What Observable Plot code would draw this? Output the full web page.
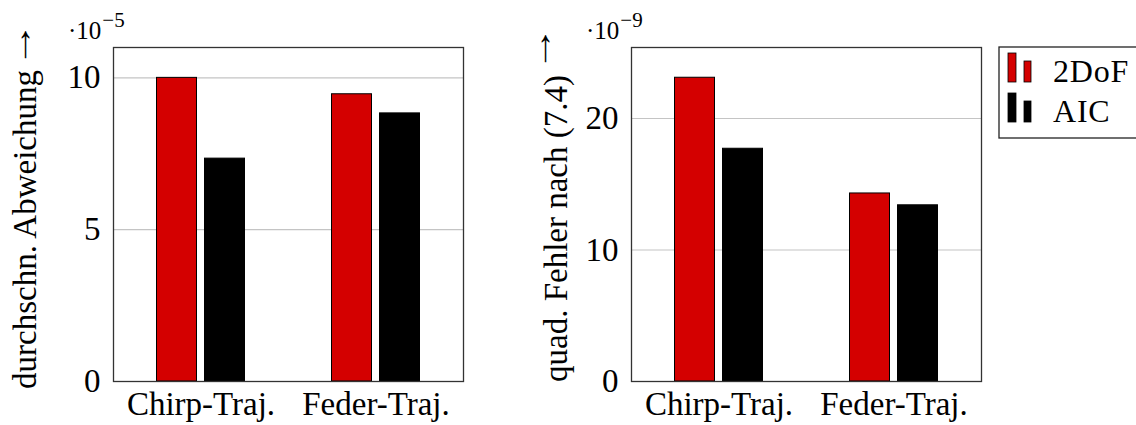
<!DOCTYPE html>
<html>
<head>
<meta charset="utf-8">
<script src="https://cdn.jsdelivr.net/npm/d3@7"></script>
<script src="https://cdn.jsdelivr.net/npm/@observablehq/plot@0.6"></script>
<style>
  html, body { margin: 0; padding: 0; background: #fff; }
  #wrap { position: relative; width: 1136px; height: 425px; overflow: hidden; font-family: "Liberation Serif", "DejaVu Serif", serif; color: #000; }
  .panel { position: absolute; top: 0; }
</style>
</head>
<body>
<div id="wrap"></div>
<script>
// ---- data ----
const categories = ["Chirp-Traj.", "Feder-Traj."];
const seriesNames = ["2DoF", "AIC"];
const meanDev2DoF = [10.0, 9.46];      // ·10^-5
const meanDevAIC  = [7.34, 8.83];      // ·10^-5
const sqErr2DoF   = [23.1, 14.3];      // ·10^-9
const sqErrAIC    = [17.7, 13.4];      // ·10^-9
const leftTicks  = [0, 5, 10];
const rightTicks = [0, 10, 20];
const leftLabel  = "durchschn. Abweichung";
const rightLabel = "quad. Fehler nach (7.4)";
const arrow = "→";
const leftExpo  = ["·10", "−5"];
const rightExpo = ["·10", "−9"];
const colors = {"2DoF": "#d40000", "AIC": "#000000"};

const FONT = '"Liberation Serif", "DejaVu Serif", serif';

function panel({v2, vA, yMax, ticks, label, labelBase, labelEnd, arrowBase, arrowMid, expo}) {
  const rows = categories.flatMap((c, i) => [
    {cat: c, series: seriesNames[0], v: v2[i]},
    {cat: c, series: seriesNames[1], v: vA[i]}
  ]);
  const svg = Plot.plot({
    width: 480, height: 425,
    marginLeft: 113, marginRight: 17, marginTop: 47, marginBottom: 44,
    style: {fontFamily: FONT, fontSize: "33px", background: "transparent", color: "#000", overflow: "visible"},
    x: {domain: categories, padding: 0},
    y: {domain: [0, yMax]},
    marks: [
      Plot.gridY(ticks.filter(t => t > 0), {stroke: "#c4c4c4", strokeOpacity: 1, strokeWidth: 1.2}),
      Plot.barY(rows.filter(d => d.series === seriesNames[0]), {
        x: "cat", y: "v", fill: colors["2DoF"], stroke: "#000", strokeWidth: 1,
        insetLeft: 43.5, insetRight: 91.5
      }),
      Plot.barY(rows.filter(d => d.series === seriesNames[1]), {
        x: "cat", y: "v", fill: colors["AIC"], stroke: "#000", strokeWidth: 1,
        insetLeft: 91.5, insetRight: 43.5
      }),
      Plot.frame({stroke: "#333", strokeWidth: 1.3}),
      Plot.axisY(ticks, {tickSize: 0, tickPadding: 13, fontSize: 33, label: null}),
      Plot.axisX({tickSize: 0, tickPadding: 10, fontSize: 33, label: null, style: {letterSpacing: "0.9px"}})
    ]
  });
  const s = d3.select(svg);
  // rotated y-axis title
  s.append("text")
    .attr("transform", `translate(${labelBase},${labelEnd}) rotate(-90)`)
    .attr("text-anchor", "end")
    .attr("font-family", FONT).attr("font-size", 33).attr("fill", "#000")
    .text(label);
  // arrow after the title
  s.append("text")
    .attr("transform", `translate(${arrowBase},${arrowMid}) rotate(-90) scale(1.4,1)`)
    .attr("text-anchor", "middle")
    .attr("font-family", FONT).attr("font-size", 33).attr("fill", "#000")
    .text(arrow);
  // multiplier label (·10^k) above the y axis
  const t = s.append("text")
    .attr("x", 68).attr("y", 39).attr("text-anchor", "start")
    .attr("font-family", FONT).attr("font-size", 25).attr("fill", "#000");
  t.append("tspan").text(expo[0]);
  t.append("tspan").attr("font-size", 21).attr("dx", 1).attr("dy", -12).text(expo[1]);
  return svg;
}

const wrap = document.getElementById("wrap");

function addPanel(left, opts) {
  const div = document.createElement("div");
  div.className = "panel";
  div.style.left = left + "px";
  div.appendChild(panel(opts));
  wrap.appendChild(div);
}

addPanel(0, {v2: meanDev2DoF, vA: meanDevAIC, yMax: 11, ticks: leftTicks,
  label: leftLabel, labelBase: 36, labelEnd: 70, arrowBase: 31, arrowMid: 45, expo: leftExpo});
addPanel(518, {v2: sqErr2DoF, vA: sqErrAIC, yMax: 25.4, ticks: rightTicks,
  label: rightLabel, labelBase: 49, labelEnd: 75, arrowBase: 33, arrowMid: 49, expo: rightExpo});

// ---- legend ----
const lg = d3.select(wrap).append("svg")
  .attr("width", 140).attr("height", 95)
  .style("position", "absolute").style("left", "998px").style("top", "46px")
  .style("font-family", FONT);
lg.append("rect").attr("x", 1).attr("y", 1).attr("width", 160).attr("height", 91)
  .attr("fill", "#fff").attr("stroke", "#222").attr("stroke-width", 1.3);
seriesNames.forEach((name, i) => {
  const y0 = 7 + i * 40;
  const g = lg.append("g").attr("transform", `translate(0,${y0})`);
  g.append("rect").attr("x", 10).attr("y", 0).attr("width", 8).attr("height", 29)
    .attr("fill", colors[name]).attr("stroke", "#000").attr("stroke-width", 0.8);
  g.append("rect").attr("x", 26).attr("y", 8).attr("width", 7).attr("height", 21)
    .attr("fill", colors[name]).attr("stroke", "#000").attr("stroke-width", 0.8);
  g.append("text").attr("x", 55).attr("y", 29).attr("font-size", 32)
    .attr("letter-spacing", "0.8px").attr("fill", "#000").text(name);
});
</script>
</body>
</html>
